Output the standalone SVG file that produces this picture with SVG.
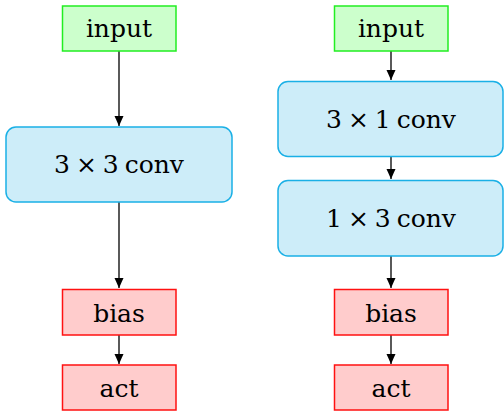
<svg xmlns="http://www.w3.org/2000/svg" width="504" height="412" viewBox="0 0 504 412">
<defs>
<marker id="ah" markerWidth="10" markerHeight="10" refX="10" refY="4.5" orient="auto" markerUnits="userSpaceOnUse">
<path d="M0,0 L10,4.5 L0,9 Z" fill="#000"/>
</marker>
<style>
.t text{font-size:25px;fill:#000;text-anchor:middle}
.t text.k{word-spacing:-2px}
.g{fill:#ccffcc;stroke:#22ee22;stroke-width:1.5}
.b{fill:#cdedf9;stroke:#1ab0e6;stroke-width:1.5}
.r{fill:#ffcccc;stroke:#ff1111;stroke-width:1.5}
.c line{stroke:#000;stroke-width:1.3;marker-end:url(#ah)}
</style>
</defs>
<g class="c">
<line x1="119" y1="51" x2="119" y2="126"/>
<line x1="119" y1="202" x2="119" y2="288"/>
<line x1="119" y1="335" x2="119" y2="364"/>
<line x1="391" y1="51" x2="391" y2="80"/>
<line x1="391" y1="157" x2="391" y2="179"/>
<line x1="391" y1="256" x2="391" y2="288"/>
<line x1="391" y1="335" x2="391" y2="364"/>
</g>
<g class="t" font-family="'DejaVu Serif', 'Liberation Serif', serif">
<g id="l_input"><rect class="g" x="62.5" y="6" width="113.5" height="45"/><text x="119" y="36.5">input</text></g>
<g id="l_conv"><rect class="b" x="6" y="127" width="226" height="75" rx="10"/><text class="k" x="119" y="173">3 × 3 conv</text></g>
<g id="l_bias"><rect class="r" x="62.5" y="289.5" width="113.5" height="45.5"/><text x="119" y="321.5">bias</text></g>
<g id="l_act"><rect class="r" x="62.5" y="365" width="113.5" height="45"/><text x="119" y="396.5">act</text></g>
<g id="r_input"><rect class="g" x="334.5" y="6" width="113.5" height="45"/><text x="391" y="36.5">input</text></g>
<g id="r_conv1"><rect class="b" x="278" y="81.5" width="225" height="75" rx="10"/><text class="k" x="391" y="128">3 × 1 conv</text></g>
<g id="r_conv2"><rect class="b" x="278" y="180.5" width="225" height="75.5" rx="10"/><text class="k" x="391" y="227">1 × 3 conv</text></g>
<g id="r_bias"><rect class="r" x="334.5" y="289.5" width="113.5" height="45.5"/><text x="391" y="321.5">bias</text></g>
<g id="r_act"><rect class="r" x="334.5" y="365" width="113.5" height="45"/><text x="391" y="396.5">act</text></g>
</g>
</svg>
